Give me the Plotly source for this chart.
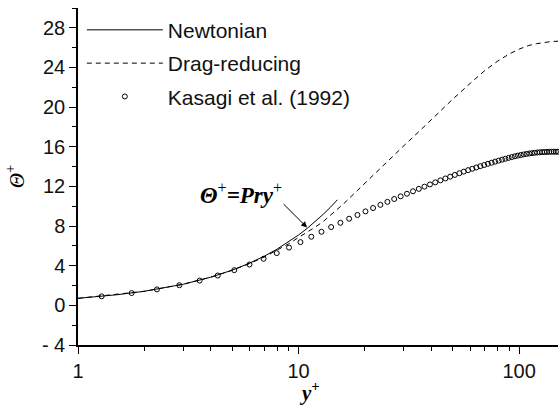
import plotly.graph_objects as go

# ---- data ----
newt_y = [1.0, 1.5, 2.0, 3.0, 4.0, 5.0, 6.0, 7.0, 8.0, 9.0, 10.0, 11.0, 12.0, 13.0, 14.0, 15.0]
newt_t = [0.71, 1.07, 1.42, 2.13, 2.84, 3.55, 4.26, 4.97, 5.68, 6.39, 7.10, 7.81, 8.52, 9.23, 9.94, 10.65]

dr_y = [1.0, 2.0, 3.0, 4.0, 5.0, 6.0, 7.0, 8.0, 9.0, 10.0, 11.0, 12.0, 13.0, 14.0, 16.0, 18.0, 20.0,
        25.0, 30.0, 35.0, 40.0, 50.0, 60.0, 70.0, 80.0, 90.0, 100.0, 110.0, 120.0, 130.0, 140.0, 150.0]
dr_t = [0.71, 1.42, 2.13, 2.84, 3.54, 4.22, 4.88, 5.55, 6.2, 6.85, 7.4, 7.95, 8.5, 9.1, 10.25, 11.35, 12.35,
        14.45, 16.1, 17.5, 18.75, 20.8, 22.4, 23.7, 24.65, 25.35, 25.85, 26.2, 26.4, 26.55, 26.62, 26.65]

kas_y = [1.28, 1.75, 2.28, 2.88, 3.56, 4.30, 5.11, 5.99, 6.94, 7.96, 9.05, 10.20, 11.42, 12.70, 14.05,
         15.47, 16.95, 18.49, 20.10, 21.76, 23.49, 25.28, 27.13, 29.03, 31.00, 33.02, 35.09, 37.22,
         39.41, 41.65, 43.93, 46.27, 48.66, 51.10, 53.58, 56.11, 58.69, 61.30, 63.96, 66.67, 69.41,
         72.18, 75.00, 77.85, 80.74, 83.66, 86.61, 89.59, 92.60, 95.63, 98.70, 101.78, 104.89, 108.03,
         111.18, 114.35, 117.53, 120.74, 123.95, 127.18, 130.42, 133.67, 136.93, 140.19, 143.46,
         146.73, 150.00]
kas_t = [0.91, 1.24, 1.61, 2.03, 2.50, 3.01, 3.55, 4.12, 4.70, 5.27, 5.83, 6.38, 6.92, 7.42, 7.90,
         8.33, 8.74, 9.12, 9.48, 9.82, 10.14, 10.44, 10.73, 11.00, 11.26, 11.51, 11.75, 11.98,
         12.20, 12.41, 12.61, 12.80, 12.98, 13.16, 13.33, 13.49, 13.64, 13.78, 13.91, 14.04, 14.16,
         14.28, 14.39, 14.50, 14.60, 14.70, 14.79, 14.88, 14.96, 15.04, 15.11, 15.17, 15.23, 15.28,
         15.32, 15.36, 15.39, 15.42, 15.44, 15.46, 15.47, 15.48, 15.49, 15.50, 15.50,
         15.50, 15.50]

y_tickvals = [-4, 0, 4, 8, 12, 16, 20, 24, 28]
y_ticktext = ["- 4", "0", "4", "8", "12", "16", "20", "24", "28"]
x_tickvals = [1, 10, 100]
x_ticktext = ["1", "10", "100"]
x_minorvals = [2, 3, 4, 5, 6, 7, 8, 9, 20, 30, 40, 50, 60, 70, 80, 90]

SANS = "Liberation Sans, Arial, sans-serif"
SERIF = "Liberation Serif, Times New Roman, serif"

fig = go.Figure()
fig.add_trace(go.Scatter(x=newt_y, y=newt_t, mode="lines", name="Newtonian",
                         line=dict(color="black", width=1), legendgroup="a"))
fig.add_trace(go.Scatter(x=dr_y, y=dr_t, mode="lines", name="Drag-reducing",
                         line=dict(color="black", width=1, dash="5px,4px"), legendgroup="b"))
fig.add_trace(go.Scatter(x=kas_y, y=kas_t, mode="markers", name="Kasagi et al. (1992)",
                         marker=dict(symbol="circle-open", size=5, color="black",
                                     line=dict(width=1, color="black")),
                         cliponaxis=False, legendgroup="c"))

fig.add_annotation(x=1.0386, y=7.85, xref="x", yref="y", ax=-25, ay=-25,
                   text="", showarrow=True, arrowhead=2, arrowsize=1.2, arrowwidth=1,
                   arrowcolor="black")
fig.add_annotation(x=0.34, y=0.451, xref="paper", yref="paper", showarrow=False,
                   xanchor="center", yanchor="middle",
                   text="<b><i>Θ</i></b><sup>+</sup><b><i>=Pry</i></b><sup>+</sup>",
                   font=dict(family=SERIF, size=23, color="black"))
# x-axis title
fig.add_annotation(x=0.483, y=-0.139, xref="paper", yref="paper", showarrow=False,
                   xanchor="center", yanchor="middle",
                   text="<b><i>y</i></b><sup><b>+</b></sup>",
                   font=dict(family=SERIF, size=21, color="black"))

fig.update_layout(
    width=559, height=407,
    margin=dict(l=78, r=1, t=8, b=62),
    plot_bgcolor="white", paper_bgcolor="white",
    showlegend=True,
    legend=dict(x=0.008, y=0.995, xanchor="left", yanchor="top",
                font=dict(family=SANS, size=21, color="#111"),
                bgcolor="rgba(0,0,0,0)", itemwidth=76, tracegroupgap=3),
    xaxis=dict(type="log", range=[0, 2.1761], showgrid=False, zeroline=False,
               showline=True, linecolor="black", linewidth=1.5,
               ticks="outside", ticklen=7, tickwidth=1.2, tickcolor="black",
               tickmode="array", tickvals=x_tickvals, ticktext=x_ticktext,
               tickfont=dict(family=SANS, size=20, color="#111"),
               minor=dict(ticks="outside", ticklen=4, tickwidth=1, tickcolor="black",
                          tickmode="array", tickvals=x_minorvals, showgrid=False)),
    yaxis=dict(range=[-4, 30], showgrid=False, zeroline=False,
               showline=True, linecolor="black", linewidth=1.5,
               ticks="outside", ticklen=7, tickwidth=1.2, tickcolor="black",
               tickmode="array", tickvals=y_tickvals, ticktext=y_ticktext,
               tickfont=dict(family=SANS, size=20, color="#111"),
               minor=dict(ticks="outside", ticklen=4, tickwidth=1, tickcolor="black",
                          tick0=0, dtick=2, showgrid=False),
               title=dict(text="<i>Θ</i><sup>+</sup>",
                          font=dict(family=SERIF, size=21, color="black"), standoff=12)),
)

fig.write_html("out.html")
